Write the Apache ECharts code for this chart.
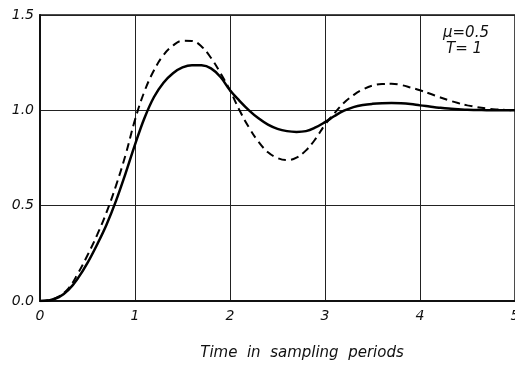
<!DOCTYPE html>
<html><head><meta charset="utf-8">
<script src="https://cdn.jsdelivr.net/npm/echarts@6/dist/echarts.min.js"></script>
<style>html,body{margin:0;padding:0;background:#fff}#c{width:515px;height:369px}</style>
</head><body><div id="c"></div>
<script>
var times = [0,0.1,0.2,0.3,0.4,0.5,0.6,0.7,0.8,0.9,1.0,1.1,1.2,1.3,1.4,1.5,1.6,1.7,1.8,1.9,2.0,2.1,2.2,2.3,2.4,2.5,2.6,2.7,2.8,2.9,3.0,3.1,3.2,3.3,3.4,3.5,3.6,3.7,3.8,3.9,4.0,4.1,4.2,4.3,4.4,4.5,4.6,4.7,4.8,4.9,5.0];
var solidValues = [0,0.004,0.02,0.058,0.12,0.2,0.295,0.4,0.525,0.668,0.82,0.96,1.07,1.145,1.195,1.225,1.237,1.236,1.22,1.175,1.105,1.05,1.0,0.958,0.925,0.903,0.891,0.887,0.891,0.91,0.938,0.97,0.998,1.017,1.028,1.034,1.037,1.038,1.037,1.033,1.026,1.02,1.014,1.009,1.006,1.003,1.002,1.001,1.0,1.0,1.0];
var dashedValues = [0,0.005,0.024,0.066,0.145,0.24,0.345,0.465,0.605,0.765,0.95,1.10,1.21,1.29,1.34,1.365,1.364,1.335,1.275,1.195,1.105,1.0,0.91,0.835,0.78,0.75,0.739,0.752,0.79,0.85,0.925,0.985,1.04,1.08,1.11,1.13,1.138,1.139,1.133,1.12,1.105,1.088,1.07,1.053,1.038,1.026,1.017,1.01,1.005,1.002,1.0];
var xTicks = ['0','1','2','3','4','5'];
var yTicks = ['0.0','0.5','1.0','1.5'];
var xTitle = 'Time  in  sampling  periods';
var note1 = '\u03bc=0.5';
var note2 = 'T= 1';

function pairs(v){ return times.map(function(t,i){ return [t, v[i]]; }); }

var chart = echarts.init(document.getElementById('c'), null, {renderer:'canvas'});
var labelFont = {fontFamily:'DejaVu Sans', fontStyle:'italic', fontSize:14, color:'#111'};
chart.setOption({
  animation:false,
  backgroundColor:'#fff',
  grid:{left:40, right:0, top:15, bottom:68, containLabel:false, outerBoundsMode:'none',
        show:true, borderColor:'#111', borderWidth:1.5},
  xAxis:{type:'value', min:0, max:5, interval:1,
    axisLine:{show:true, lineStyle:{color:'#111', width:2}},
    axisTick:{show:false},
    axisLabel:Object.assign({margin:8, formatter:function(v){return xTicks[Math.round(v)];}}, labelFont),
    splitLine:{show:true, lineStyle:{color:'#222', width:1}}
  },
  yAxis:{type:'value', min:0, max:1.5, interval:0.5,
    axisLine:{show:true, lineStyle:{color:'#111', width:2}},
    axisTick:{show:false},
    axisLabel:Object.assign({margin:6, formatter:function(v){return yTicks[Math.round(v*2)];}}, labelFont),
    splitLine:{show:true, lineStyle:{color:'#222', width:1}}
  },
  series:[
    {type:'line', data:pairs(solidValues), smooth:0.4, showSymbol:false,
     lineStyle:{color:'#000', width:2.5, type:'solid'}},
    {type:'line', data:pairs(dashedValues), smooth:0.4, showSymbol:false,
     lineStyle:{color:'#000', width:2, type:[8,5]}}
  ],
  graphic:[
    {type:'text', left:443, top:26, style:{text:note1, font:'italic 15px "DejaVu Sans"', fill:'#111'}},
    {type:'text', left:446, top:42, style:{text:note2, font:'italic 15px "DejaVu Sans"', fill:'#111'}},
    {type:'text', x:302, y:353, style:{text:xTitle, font:'italic 15px "DejaVu Sans"', fill:'#111', align:'center', verticalAlign:'middle'}}
  ]
});
</script></body></html>
